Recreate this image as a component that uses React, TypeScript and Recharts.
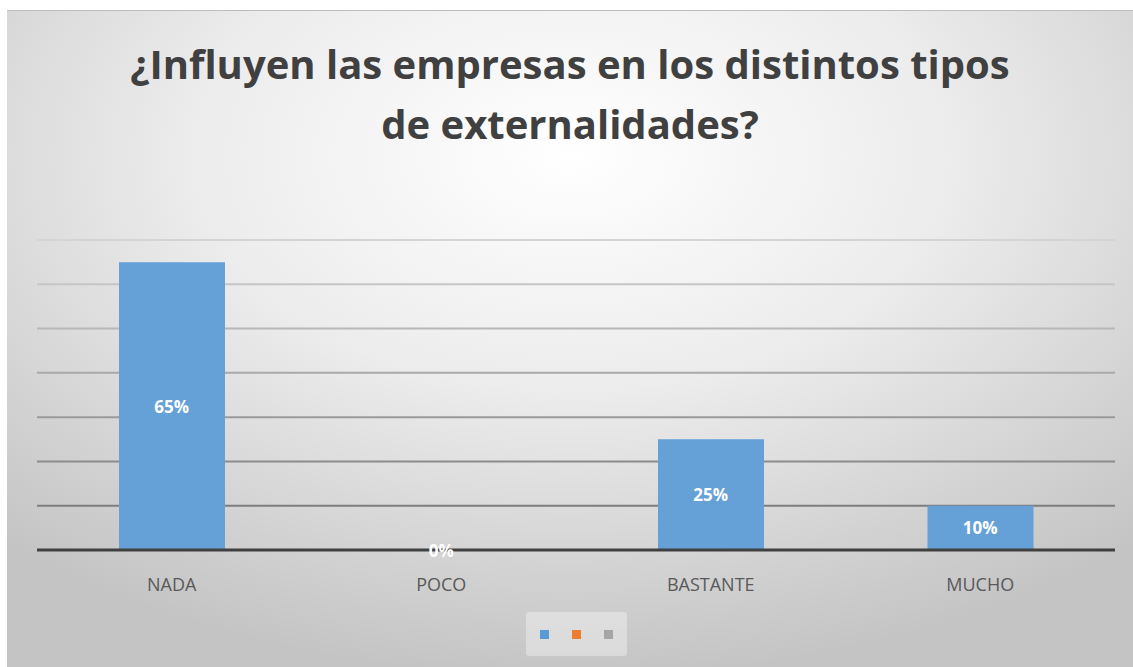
import React from 'react';
import { ComposedChart, Bar, Line, XAxis, YAxis, CartesianGrid, LabelList, Legend } from 'recharts';

const categories = ['NADA', 'POCO', 'BASTANTE', 'MUCHO'];
const values = [65, 0, 25, 10];
const yTicks = [0, 10, 20, 30, 40, 50, 60, 70];
const legendColors = ['#5B9BD5', '#ED7D31', '#A5A5A5'];

// mid = centre of each bar, used only to place the value labels
const data = categories.map((name, i) => ({ name, value: values[i], mid: values[i] / 2 }));

const W = 1126;
const H = 656;
const FONT = '"Open Sans", "Noto Sans", sans-serif';

const LegendBox = () => (
  <div style={{ display: 'flex', justifyContent: 'center' }}>
    <div
      style={{
        display: 'flex',
        gap: 23,
        alignItems: 'center',
        padding: '0 14px',
        height: 44,
        background: 'rgba(255,255,255,0.35)',
        borderRadius: 3,
      }}
    >
      {legendColors.map((c) => (
        <span key={c} style={{ width: 9, height: 9, background: c, display: 'inline-block' }} />
      ))}
    </div>
  </div>
);

const renderValue = (props: any) => {
  const { x, y, value } = props;
  return (
    <text
      x={Number(x)}
      y={Number(y)}
      textAnchor="middle"
      dominantBaseline="central"
      fill="#ffffff"
      fontSize={17}
      fontWeight={700}
      fontFamily={FONT}
    >
      {`${value}%`}
    </text>
  );
};

export default function App() {
  return (
    <div style={{ position: 'absolute', left: 0, top: 0, width: 1133, height: 667, background: '#fff' }}>
      <div
        style={{
          position: 'absolute',
          left: 7,
          top: 10,
          width: W,
          height: H + 1,
          borderTop: '1px solid #bdbdbd',
          boxSizing: 'border-box',
          background: 'radial-gradient(ellipse 75% 80% at 50% 22%, #ffffff 0%, #ececec 45%, #d2d2d2 80%, #c4c4c4 100%)',
        }}
      >
        <div
          style={{
            position: 'absolute',
            left: 0,
            width: W,
            top: 23,
            textAlign: 'center',
            fontFamily: FONT,
            fontWeight: 700,
            fontSize: 40,
            lineHeight: '60px',
            color: '#404040',
          }}
        >
          ¿Influyen las empresas en los distintos tipos
          <br />
          de externalidades?
        </div>
        <ComposedChart
          width={W}
          height={H}
          data={data}
          margin={{ top: 229, right: 18, bottom: 43, left: 30 }}
          style={{ position: 'absolute', left: 0, top: 0 }}
        >
          <defs>
            <linearGradient id="gridGrad" gradientUnits="userSpaceOnUse" x1="0" y1="229" x2="0" y2="539">
              <stop offset="0%" stopColor="#d4d4d4" />
              <stop offset="100%" stopColor="#6f6f6f" />
            </linearGradient>
          </defs>
          <CartesianGrid vertical={false} stroke="url(#gridGrad)" strokeWidth={2} />
          <YAxis hide domain={[0, 70]} ticks={yTicks} />
          <XAxis
            dataKey="name"
            axisLine={{ stroke: '#404040', strokeWidth: 3 }}
            tickLine={false}
            tick={{ fill: '#595959', fontSize: 18, fontFamily: FONT }}
            tickMargin={22}
          />
          <Legend verticalAlign="bottom" wrapperStyle={{ bottom: 11 }} content={() => <LegendBox />} />
          <Bar dataKey="value" fill="#65A0D6" barSize={106} isAnimationActive={false} />
          <Line
            dataKey="mid"
            stroke="none"
            dot={false}
            activeDot={false}
            legendType="none"
            isAnimationActive={false}
          >
            <LabelList dataKey="value" content={renderValue} />
          </Line>
        </ComposedChart>
      </div>
    </div>
  );
}
